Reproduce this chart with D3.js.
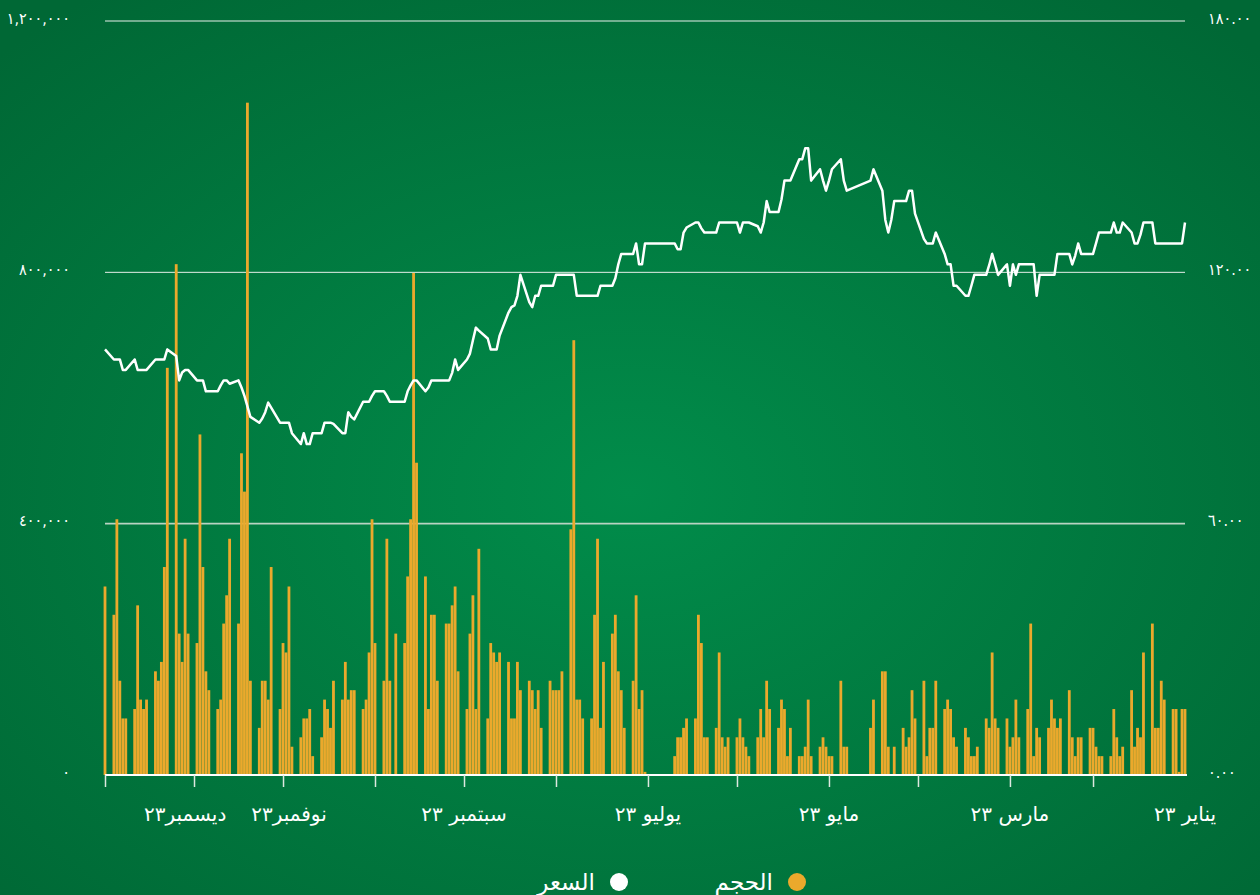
<!DOCTYPE html>
<html>
<head>
<meta charset="utf-8">
<script src="https://cdn.jsdelivr.net/npm/d3@7"></script>
<style>
html, body { margin: 0; padding: 0; background: #007a40; }
svg { display: block; font-family: "DejaVu Sans", sans-serif; }
</style>
</head>
<body>
<script>
// trading weeks (Sun..Thu), 2023
var weekStarts = [
    '2023-01-01', '2023-01-08', '2023-01-15', '2023-01-22', '2023-01-29',
    '2023-02-05', '2023-02-12', '2023-02-19', '2023-02-26',
    '2023-03-05', '2023-03-12', '2023-03-19', '2023-03-26',
    '2023-04-02', '2023-04-09', '2023-04-16', '2023-04-23', '2023-04-30',
    '2023-05-07', '2023-05-14', '2023-05-21', '2023-05-28',
    '2023-06-04', '2023-06-11', '2023-06-18', '2023-06-25',
    '2023-07-02', '2023-07-09', '2023-07-16', '2023-07-23', '2023-07-30',
    '2023-08-06', '2023-08-13', '2023-08-20', '2023-08-27',
    '2023-09-03', '2023-09-10', '2023-09-17', '2023-09-24',
    '2023-10-01', '2023-10-08', '2023-10-15', '2023-10-22', '2023-10-29',
    '2023-11-05', '2023-11-12', '2023-11-19', '2023-11-26',
    '2023-12-03', '2023-12-10', '2023-12-17', '2023-12-24', '2023-12-31'
];

// volume in thousands of shares, Sun..Thu for each week
var volume = [
    [105, 105, 5, 105, 105], [120, 150, 75, 75, 241], [195, 60, 75, 45, 135], [45, 30, 60, 105, 30],
    [30, 30, 45, 75, 75], [60, 60, 30, 60, 135], [90, 75, 90, 120, 75], [60, 75, 30, 241, 105],
    [60, 120, 60, 45, 90], [75, 90, 195, 75, 90], [45, 30, 30, 60, 75], [45, 60, 105, 120, 105],
    [150, 75, 75, 30, 150], [90, 135, 60, 45, 75], [45, 0, 45, 165, 165], [120, 75, 0, 0, 0],
    [0, 0, 45, 45, 150], [30, 30, 45, 60, 45], [30, 120, 45, 30, 30], [75, 30, 105, 120, 75],
    [105, 150, 60, 105, 60], [30, 45, 60, 90, 60], [60, 45, 60, 195, 75], [60, 60, 210, 255, 90],
    [90, 75, 60, 60, 30], [0, 0, 0, 0, 0], [5, 135, 105, 286, 150], [75, 135, 165, 255, 225],
    [180, 75, 376, 255, 90], [90, 120, 120, 692, 391], [165, 135, 135, 135, 150], [75, 135, 105, 135, 150],
    [135, 180, 90, 90, 180], [195, 180, 195, 210, 90], [360, 105, 286, 225, 105], [165, 300, 270, 241, 241],
    [150, 255, 255, 105, 316], [497, 799, 407, 316, 210], [225, 0, 150, 376, 150], [210, 407, 195, 120, 105],
    [135, 135, 120, 180, 120], [150, 75, 105, 120, 60], [30, 105, 90, 90, 60], [45, 300, 195, 210, 105],
    [331, 120, 150, 150, 75], [150, 1070, 451, 512, 241], [376, 286, 241, 120, 105], [135, 165, 331, 542, 210],
    [225, 376, 180, 225, 813], [648, 331, 180, 150, 165], [120, 105, 120, 270, 105], [90, 90, 150, 407, 255],
    [300]
];

// closing price, Sun..Thu for each week (null = market closed)
var price = [
    [131.9, 126.9, 126.9, 126.9, 126.9], [126.9, 126.9, 126.9, 126.9, 131.9], [131.9, 129.0, 126.9, 126.9, 129.5],
    [131.9, 129.5, 129.5, 131.9, 129.5], [129.5, 129.5, 126.9, 124.4, 124.4], [124.4, 126.9, 124.0, 121.9, 124.4],
    [124.4, 124.4, 119.4, 119.4, 119.4], [119.4, 114.4, 121.9, 121.9, 121.9], [121.9, 119.4, 121.9, 116.8, 121.9],
    [119.4, 122.0, 124.4, 121.7, 119.4], [119.4, 119.4, 116.8, 114.4, 114.4], [116.8, 116.8, 121.9, 121.9, 124.4],
    [129.5, 126.9, 126.9, 126.9, 128.0], [134.0, 139.5, 139.5, 137.0, 137.0], [137.0, 132.5, 129.5, 132.5, 139.5],
    [144.6, 141.9, null, null, null], [null, null, 139.5, 141.9, 147.0], [144.6, 141.9, 139.5, 141.9, 144.6],
    [141.9, 149.6, 149.6, 147.0, 147.0], [141.9, 141.9, 141.9, 137.4, 134.4], [134.4, 137.0, 131.9, 129.5, 131.0],
    [131.9, 131.9, 131.9, 129.5, 131.9], [131.9, 131.9, 131.9, 131.9, 129.5], [129.5, 129.5, 130.5, 131.9, 131.9],
    [130.7, 129.5, 125.5, 125.5, 126.9], [null, null, null, null, null], [126.9, 121.9, 121.9, 126.9, 124.4],
    [124.4, 124.4, 121.9, 118.6, 116.8], [116.8, 116.8, 114.4, 114.4, 114.4], [114.4, 114.4, 114.4, 119.4, 119.4],
    [119.4, 119.4, 119.4, 116.8, 116.8], [116.8, 114.4, 114.4, 111.7, 112.9], [119.4, 114.4, 112.1, 111.7, 110.4],
    [104.9, 101.6, 101.6, 101.6, 104.2], [106.1, 106.8, 103.8, 100.6, 99.2], [96.7, 99.2, 96.0, 94.2, 94.2],
    [94.2, 94.2, 94.2, 92.5, 91.6], [94.2, 94.2, 93.0, 91.6, 89.1], [89.1, 89.1, 89.1, 90.5, 91.6],
    [91.6, 90.5, 89.1, 89.1, 89.1], [84.9, 85.5, 86.6, 81.6, 81.6], [83.8, 84.1, 84.1, 84.1, 81.6],
    [81.6, 79.0, 79.0, 81.6, 79.0], [81.6, 84.1, 84.1, 84.1, 84.1], [87.7, 88.9, 86.6, 85.1, 84.1],
    [85.5, 88.0, 90.5, 92.5, 94.2], [93.4, 94.2, 94.2, 93.0, 91.6], [91.6, 91.6, 94.2, 94.2, 94.2],
    [96.7, 96.7, 96.1, 94.2, 100.0], [101.6, 99.2, 99.2, 99.2, 99.2], [96.7, 96.7, 96.7, 96.7, 99.2],
    [96.7, 96.7, 99.2, 99.2, 99.2], [101.6]
];

var monthLabels = [
    ['2023-01-01', 'يناير ٢٣'], ['2023-03-01', 'مارس ٢٣'], ['2023-05-01', 'مايو ٢٣'],
    ['2023-07-01', 'يوليو ٢٣'], ['2023-09-01', 'سبتمبر ٢٣'], ['2023-10-30', 'نوفمبر٢٣'],
    ['2023-12-04', 'ديسمبر٢٣']
];
var tickDates = ['2023-02-01', '2023-03-01', '2023-04-01', '2023-05-01', '2023-06-01', '2023-07-01',
    '2023-08-01', '2023-09-01', '2023-10-01', '2023-11-01', '2023-12-01', '2023-12-31'];
var volumeTicks = [0, 400000, 800000, 1200000];
var priceTicks = [0, 60, 120, 180];
var legendItems = [
    { name: 'الحجم', color: '#eba92c' },
    { name: 'السعر', color: '#ffffff' }
];

var width = 1260, height = 895;
var plotLeft = 105, plotRight = 1185, plotTop = 21, plotBottom = 775;
var parse = d3.timeParse('%Y-%m-%d');

function arabicDigits(s) {
    return s.replace(/[0-9]/g, function(d) { return '٠١٢٣٤٥٦٧٨٩'[+d]; });
}

// flatten weeks into trading days
var days = [];
weekStarts.forEach(function(ws, i) {
    var start = parse(ws);
    volume[i].forEach(function(v, j) {
        days.push({ date: d3.timeDay.offset(start, j), volume: v * 1000, price: price[i][j] });
    });
});

var x = d3.scaleTime().domain([parse('2023-01-01'), parse('2023-12-31')]).range([plotRight, plotLeft]);
var yVol = d3.scaleLinear().domain([0, 1200000]).range([plotBottom, plotTop]);
var yPrice = d3.scaleLinear().domain([0, 180]).range([plotBottom, plotTop]);

var svg = d3.select('body').append('svg')
    .attr('width', width)
    .attr('height', height);

var grad = svg.append('defs').append('radialGradient')
    .attr('id', 'bg')
    .attr('cx', '50%').attr('cy', '55%').attr('r', '70%');
grad.append('stop').attr('offset', '0%').attr('stop-color', '#018c4a');
grad.append('stop').attr('offset', '100%').attr('stop-color', '#006835');

svg.append('rect')
    .attr('width', width)
    .attr('height', height)
    .attr('fill', 'url(#bg)');

// grid lines
svg.selectAll('line.grid').data(volumeTicks.slice(1)).enter().append('line')
    .attr('class', 'grid')
    .attr('x1', plotLeft).attr('x2', plotRight)
    .attr('y1', function(d) { return yVol(d); })
    .attr('y2', function(d) { return yVol(d); })
    .attr('stroke', function(d) { return d === 400000 ? '#b9d3c2' : '#e6efe9'; })
    .attr('stroke-width', function(d) { return d === 400000 ? 1.6 : 1; });

// volume bars
svg.selectAll('rect.bar').data(days.filter(function(d) { return d.volume > 0; })).enter().append('rect')
    .attr('class', 'bar')
    .attr('x', function(d) { return x(d.date) - 1.4; })
    .attr('width', 2.8)
    .attr('y', function(d) { return yVol(d.volume); })
    .attr('height', function(d) { return plotBottom - yVol(d.volume); })
    .attr('fill', '#eba92c');

// price line
var line = d3.line()
    .x(function(d) { return x(d.date); })
    .y(function(d) { return yPrice(d.price); });

svg.append('path')
    .datum(days.filter(function(d) { return d.price != null; }))
    .attr('d', line)
    .attr('fill', 'none')
    .attr('stroke', '#ffffff')
    .attr('stroke-width', 2.5)
    .attr('stroke-linejoin', 'round');

// bottom axis
var axis = d3.axisBottom(x)
    .tickValues(tickDates.map(parse))
    .tickSize(12)
    .tickSizeOuter(0)
    .tickFormat('');

var gx = svg.append('g')
    .attr('transform', 'translate(0,' + plotBottom + ')')
    .call(axis);
gx.select('.domain').attr('d', 'M' + plotLeft + ',0H' + (plotRight + 2)).attr('stroke', '#ffffff').attr('stroke-width', 2);
gx.selectAll('.tick line').attr('stroke', '#dde8e0').attr('stroke-width', 1.5);

svg.selectAll('text.month').data(monthLabels).enter().append('text')
    .attr('class', 'month')
    .attr('x', function(d) { return x(parse(d[0])); })
    .attr('y', 814)
    .attr('dy', '0.35em')
    .attr('text-anchor', 'middle')
    .attr('fill', '#ffffff')
    .attr('font-size', 20)
    .text(function(d) { return d[1]; });

// left axis labels (volume)
svg.selectAll('text.vol').data(volumeTicks).enter().append('text')
    .attr('class', 'vol')
    .attr('x', 70)
    .attr('y', function(d) { return yVol(d) - 3; })
    .attr('dy', '0.35em')
    .attr('text-anchor', 'end')
    .attr('fill', '#ffffff')
    .attr('font-family', '"DejaVu Sans Condensed", "DejaVu Sans", sans-serif')
    .attr('font-size', 16)
    .text(function(d) { return arabicDigits(d3.format(',')(d)); });

// right axis labels (price)
svg.selectAll('text.price').data(priceTicks).enter().append('text')
    .attr('class', 'price')
    .attr('x', 1208)
    .attr('y', function(d) { return yPrice(d) - 3; })
    .attr('dy', '0.35em')
    .attr('text-anchor', 'start')
    .attr('fill', '#ffffff')
    .attr('font-family', '"DejaVu Sans Condensed", "DejaVu Sans", sans-serif')
    .attr('font-size', 16)
    .text(function(d) { return arabicDigits(d3.format('.2f')(d)); });

// legend
var legend = svg.selectAll('g.legend').data(legendItems).enter().append('g')
    .attr('class', 'legend')
    .attr('transform', function(d, i) { return 'translate(' + (797 - i * 178) + ',882)'; });
legend.append('circle')
    .attr('r', 9)
    .attr('fill', function(d) { return d.color; });
legend.append('text')
    .attr('x', -24)
    .attr('dy', '0.35em')
    .attr('text-anchor', 'end')
    .attr('fill', '#ffffff')
    .attr('font-size', 23)
    .text(function(d) { return d.name; });
</script>
</body>
</html>
